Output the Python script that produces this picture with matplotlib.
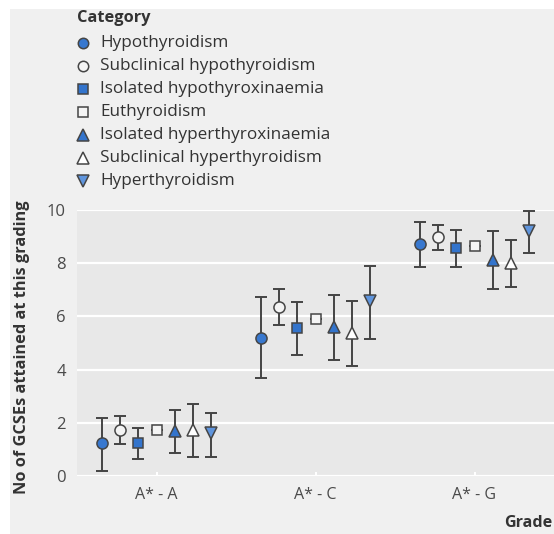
import matplotlib
matplotlib.use("Agg")
import matplotlib.pyplot as plt
from matplotlib.patches import Rectangle
from matplotlib.lines import Line2D
import numpy as np

plt.rcParams['font.family'] = ['Open Sans', 'DejaVu Sans']

grades = ["A* - A", "A* - C", "A* - G"]
categories = ["Hypothyroidism", "Subclinical hypothyroidism", "Isolated hypothyroxinaemia",
              "Euthyroidism", "Isolated hyperthyroxinaemia", "Subclinical hyperthyroidism",
              "Hyperthyroidism"]

# means per category, across grades
hypo_mean = [1.23, 5.20, 8.73]
hypo_lo = [0.20, 3.70, 7.87]
hypo_hi = [2.19, 6.72, 9.56]

subhypo_mean = [1.72, 6.37, 8.97]
subhypo_lo = [1.19, 5.68, 8.50]
subhypo_hi = [2.24, 7.03, 9.44]

isohypo_mean = [1.24, 5.55, 8.56]
isohypo_lo = [0.65, 4.55, 7.85]
isohypo_hi = [1.82, 6.55, 9.26]

eu_mean = [1.74, 5.91, 8.65]
eu_lo = [1.74, 5.91, 8.65]
eu_hi = [1.74, 5.91, 8.65]

isohyper_mean = [1.69, 5.59, 8.12]
isohyper_lo = [0.86, 4.37, 7.03]
isohyper_hi = [2.49, 6.82, 9.21]

subhyper_mean = [1.72, 5.39, 8.02]
subhyper_lo = [0.73, 4.14, 7.11]
subhyper_hi = [2.70, 6.58, 8.88]

hyper_mean = [1.60, 6.57, 9.22]
hyper_lo = [0.71, 5.16, 8.38]
hyper_hi = [2.36, 7.89, 9.95]

means = [hypo_mean, subhypo_mean, isohypo_mean, eu_mean, isohyper_mean, subhyper_mean, hyper_mean]
lows = [hypo_lo, subhypo_lo, isohypo_lo, eu_lo, isohyper_lo, subhyper_lo, hyper_lo]
highs = [hypo_hi, subhypo_hi, isohypo_hi, eu_hi, isohyper_hi, subhyper_hi, hyper_hi]

markers = ['o', 'o', 's', 's', '^', '^', 'v']
faces = ['#3878cf', '#f4f4f4', '#3374cc', '#f4f4f4', '#3374cc', '#ffffff', '#5f95dd']
sizes = [8, 8, 7.5, 7.5, 8.5, 8.5, 8.5]

W, H = 554, 534
fig = plt.figure(figsize=(W / 100, H / 100), dpi=100)
fig.patch.set_facecolor('white')
fig.patches.append(Rectangle((10 / W, 0), 1 - 10 / W, 1 - 9 / H, transform=fig.transFigure,
                             facecolor='#f0f0f0', edgecolor='none', zorder=-10))

ax = fig.add_axes([77 / W, 58 / H, (W - 77) / W, 266 / H])
ax.set_zorder(1)
ax.set_facecolor('#e8e8e8')
for s in ax.spines.values():
    s.set_visible(False)
ax.set_ylim(0, 10)
ax.set_xlim(-0.5, 2.5)
ax.set_yticks([0, 2, 4, 6, 8, 10])
ax.yaxis.grid(True, color='white', linewidth=1.6)
ax.set_axisbelow(True)
ax.tick_params(axis='y', length=0, labelsize=12, labelcolor='#4a4a4a', pad=8)
ax.set_xticks(range(len(grades)))
ax.set_xticklabels(grades)
ax.tick_params(axis='x', direction='in', length=3, color='white', width=1.5,
               labelsize=11.5, labelcolor='#4a4a4a', pad=8)

x = np.arange(len(grades))
step = 0.114
for i in range(len(categories)):
    xs = x + (i - 3) * step
    m = np.array(means[i]); lo = np.array(lows[i]); hi = np.array(highs[i])
    ax.errorbar(xs, m, yerr=[m - lo, hi - m], fmt='none', ecolor='#444444',
                elinewidth=1.4, capsize=4.5, capthick=1.4, zorder=2)
    ax.plot(xs, m, linestyle='none', marker=markers[i], markersize=sizes[i],
            markerfacecolor=faces[i], markeredgecolor='#454545', markeredgewidth=1.1, zorder=3)

fig.text(22 / W, 1 - 347 / H, "No of GCSEs attained at this grading", rotation=90,
         ha='center', va='center', fontsize=11.8, fontweight='bold', color='#333333')
fig.text(552 / W, 1 - 523 / H, "Grade", ha='right', va='center', fontsize=11.6,
         fontweight='bold', color='#333333')

# legend
fig.text(77 / W, 1 - 18 / H, "Category", ha='left', va='center', fontsize=11.8,
         fontweight='bold', color='#333333')
for i, c in enumerate(categories):
    yy = 1 - (43 + 23 * i) / H
    fig.add_artist(Line2D([83 / W], [yy], transform=fig.transFigure, linestyle='none',
                          marker=markers[i], markersize=sizes[i] - 0.5,
                          markerfacecolor=faces[i], markeredgecolor='#454545',
                          markeredgewidth=1.1))
    fig.text(100 / W, yy, c, ha='left', va='center', fontsize=12.3, color='#333333')

fig.savefig("out.png", dpi=100, facecolor=fig.get_facecolor())
